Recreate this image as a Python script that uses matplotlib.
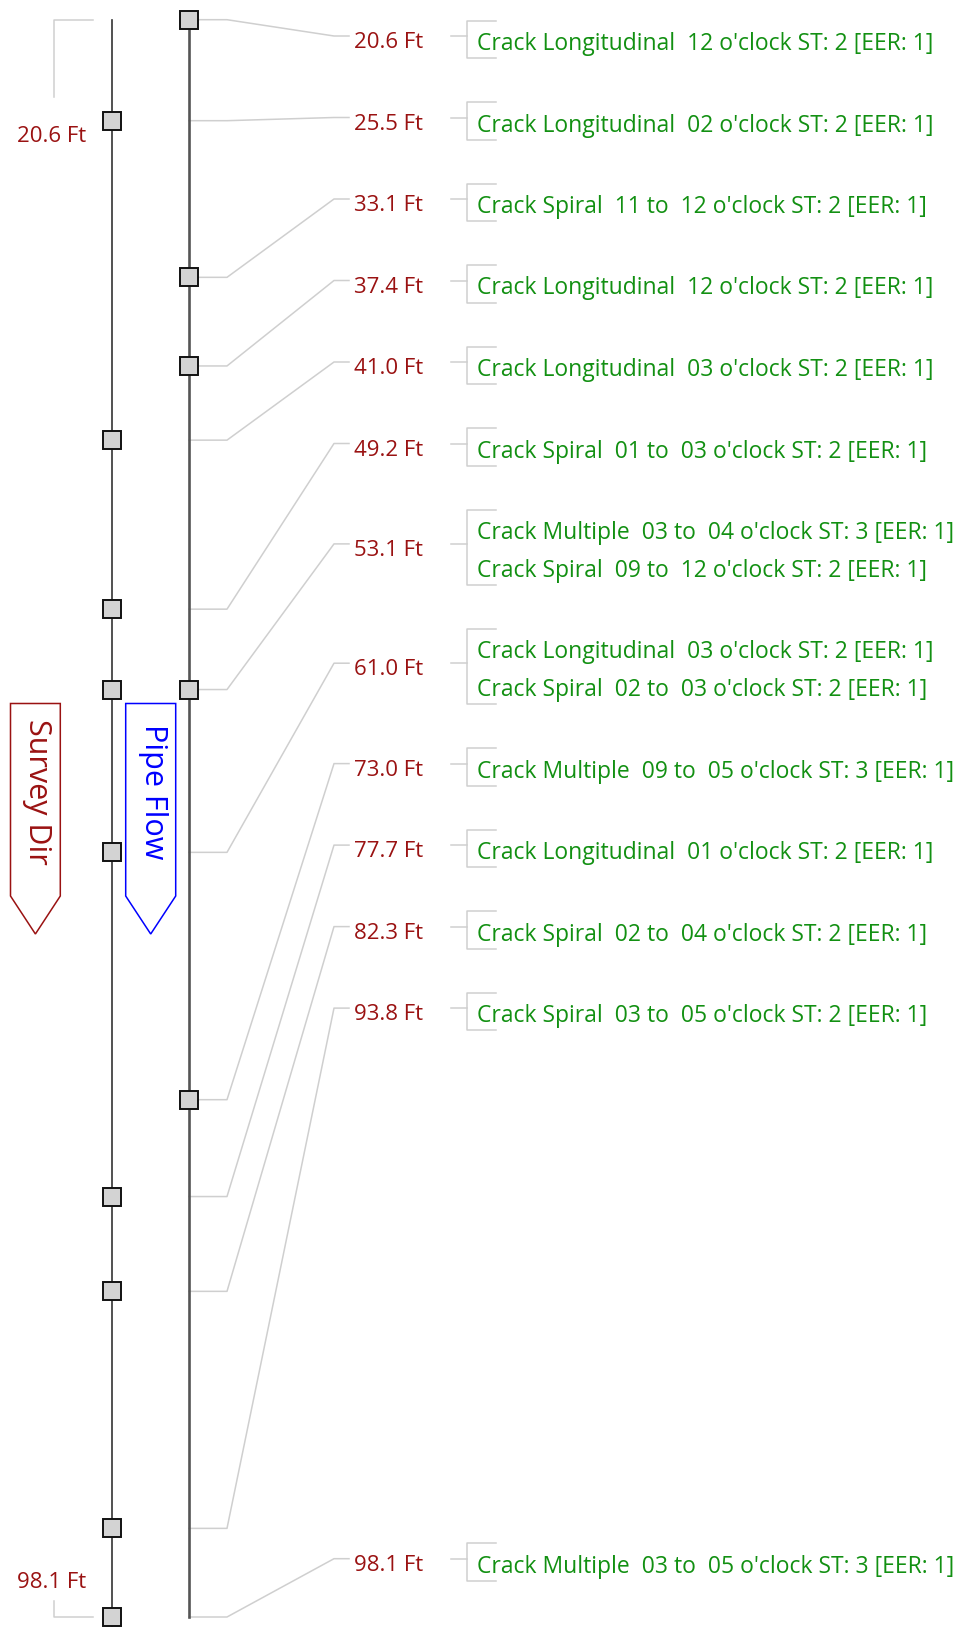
import matplotlib
matplotlib.use("Agg")
import matplotlib.pyplot as plt
from matplotlib.patches import Polygon

plt.rcParams['font.family'] = ['Open Sans', 'DejaVu Sans']

# features found along the run (ft)
feature_dist = [20.6, 25.5, 33.1, 37.4, 41.0, 49.2, 53.1, 61.0, 73.0, 77.7, 82.3, 93.8, 98.1]
left_marks = [25.5, 41.0, 49.2, 53.1, 61.0, 77.7, 82.3, 93.8, 98.1]
right_marks = [20.6, 33.1, 37.4, 53.1, 73.0]
range_start, range_end = 20.6, 98.1

# anomaly records
anom_dist = [20.6, 25.5, 33.1, 37.4, 41.0, 49.2, 53.1, 53.1, 61.0, 61.0, 73.0, 77.7, 82.3, 93.8, 98.1]
anom_type = ["Longitudinal", "Longitudinal", "Spiral", "Longitudinal", "Longitudinal", "Spiral",
             "Multiple", "Spiral", "Longitudinal", "Spiral", "Multiple", "Longitudinal",
             "Spiral", "Spiral", "Multiple"]
anom_clock = ["12", "02", "11 to  12", "12", "03", "01 to  03", "03 to  04", "09 to  12",
              "03", "02 to  03", "09 to  05", "01", "02 to  04", "03 to  05", "03 to  05"]
anom_st = [2, 2, 2, 2, 2, 2, 3, 2, 2, 2, 3, 2, 2, 2, 3]
anom_eer = [1] * 15

W, H = 959, 1627
RED, GREEN, BLUE, GRID = '#9a1212', '#129012', '#0000ff', '#cfcfcf'
FS, FS_ANOM = 16, 16.45

# pixel anchors for first/last distance
TOP_PX, BOT_PX = 19.7, 1617.0
scale = (BOT_PX - TOP_PX) / (range_end - range_start)


def px2ft(p):
    return range_start + (p - TOP_PX) / scale


fig = plt.figure(figsize=(W / 100, H / 100), dpi=100)
ax = fig.add_axes([0, 0, 1, 1])
ax.set_xlim(0, W)
ax.set_ylim(px2ft(H), px2ft(0))
ax.axis('off')

XL, XR = 112, 189

# axis lines
ax.plot([XL, XL], [px2ft(20), px2ft(H + 5)], color='#333333', lw=1.2, zorder=3)
ax.plot([XR, XR], [range_start, range_end], color='#555555', lw=1.9, zorder=3)

sq = dict(marker='s', ms=13, mfc='#d3d3d3', mec='#111111', mew=1.4, ls='none', zorder=5)
ax.plot([XL] * len(left_marks), left_marks, **sq)
ax.plot([XR] * len(right_marks), right_marks, **sq)

# range labels on the left
ax.plot([93, 54, 54], [range_start, range_start, px2ft(97)], color=GRID, lw=1.1)
ax.text(86, px2ft(141.5), f"{range_start:.1f} Ft", color=RED, fontsize=FS, ha='right', va='baseline')
ax.plot([54, 54, 93], [px2ft(1601), range_end, range_end], color=GRID, lw=1.1)
ax.text(86, px2ft(1588), f"{range_end:.1f} Ft", color=RED, fontsize=FS, ha='right', va='baseline')

# direction arrows
def arrow(x0, x1, text, color):
    xm = (x0 + x1) / 2
    pts = [(x0, 703.5), (x1, 703.5), (x1, 896), (xm, 934), (x0, 896)]
    ax.add_patch(Polygon([(x, px2ft(y)) for x, y in pts], closed=True, fill=False,
                         ec=color, lw=1.1, zorder=2))
    ax.text(xm + 2, px2ft(792), text, color=color, fontsize=22, rotation=270,
            ha='center', va='center')


arrow(10.5, 60.3, "Survey Dir", RED)
arrow(125.7, 175.7, "Pipe Flow", BLUE)

# group anomalies by distance
groups = []
for d in feature_dist:
    lines = [f"Crack {t}  {c} o'clock ST: {s} [EER: {e}]"
             for dd, t, c, s, e in zip(anom_dist, anom_type, anom_clock, anom_st, anom_eer) if dd == d]
    groups.append(lines)

LINE_H, GAP = 37.8, 43.7
top = 20.5
tops = []
for lines in groups:
    tops.append(top)
    top += len(lines) * LINE_H + GAP
# last group pinned to the bottom
tops[-1] = 1581 - len(groups[-1]) * LINE_H

for d, lines, t in zip(feature_dist, groups, tops):
    b = t + len(lines) * LINE_H
    mid = (t + b) / 2
    ly = mid - 3.4
    ax.plot([XR, 227, 334, 349], [d, d, px2ft(ly), px2ft(ly)], color=GRID, lw=1.1, zorder=1)
    ax.text(354, px2ft(mid + 8.7), f"{d:.1f} Ft", color=RED, fontsize=FS, ha='left', va='baseline')
    ax.plot([451, 467], [px2ft(ly), px2ft(ly)], color=GRID, lw=1.1)
    ax.plot([496, 467, 467, 496], [px2ft(t), px2ft(t), px2ft(b), px2ft(b)], color=GRID, lw=1.1)
    for i, s in enumerate(lines):
        ax.text(477, px2ft(t + 29.5 + i * LINE_H), s, color=GREEN, fontsize=FS_ANOM,
                ha='left', va='baseline')

fig.savefig("out.png", dpi=100)
